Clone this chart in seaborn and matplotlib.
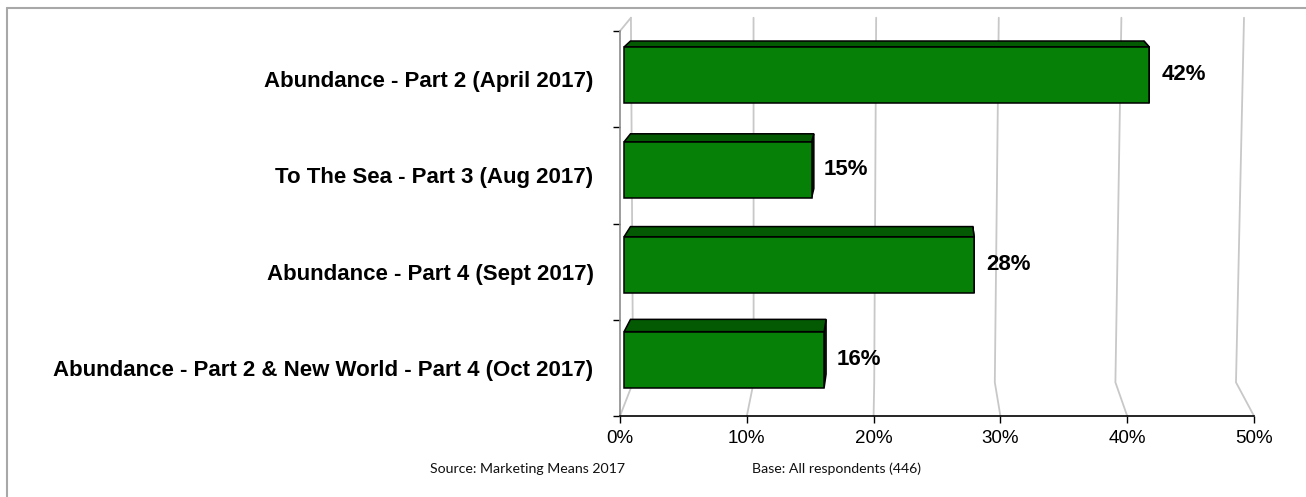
import matplotlib
matplotlib.use("Agg")
import pandas as pd
import matplotlib.pyplot as plt
from matplotlib.patches import Polygon
from matplotlib.lines import Line2D
import seaborn as sns

# chart data
categories = [
    "Abundance - Part 2 (April 2017)",
    "To The Sea - Part 3 (Aug 2017)",
    "Abundance - Part 4 (Sept 2017)",
    "Abundance - Part 2 & New World - Part 4 (Oct 2017)",
]
values = [42, 15, 28, 16]
x_ticks = [0, 10, 20, 30, 40, 50]
x_tick_labels = ["0%", "10%", "20%", "30%", "40%", "50%"]
source_text = "Source: Marketing Means 2017"
base_text = "Base: All respondents (446)"

# colours
front_green = "#068006"
top_green = "#035A03"
side_green = "#024602"
grid_grey = "#C8C8C8"

# fake 3d perspective (vanishing point in data coords, depth scales)
vp_x, vp_y = 23.0, -3.1
s_front = 0.986
s_back = 0.964
s_wall = 0.947
# back wall gridlines: (centre, scale) for x at the top and at the bottom
wall_top = (26.1, 0.967)
wall_bottom = (21.0, 0.951)


def proj(x, y, s):
    return vp_x + s * (x - vp_x), vp_y + s * (y - vp_y)


def wall_x(v, params):
    c, s = params
    return c + s * (v - c)


sns.set_theme(style="white")
plt.rcParams["font.family"] = ["Liberation Sans", "DejaVu Sans"]
plt.rcParams["text.color"] = "black"
plt.rcParams["xtick.color"] = "black"
plt.rcParams["ytick.color"] = "black"

fig = plt.figure(figsize=(13.06, 4.97), dpi=100)
ax = fig.add_axes([620 / 1306, 1 - 416 / 497, 634 / 1306, 385 / 497])

df = pd.DataFrame({"show": categories, "pct": values})
sns.barplot(data=df, x="pct", y="show", orient="h", color=front_green,
            saturation=1, width=0.59, edgecolor="black", linewidth=1.1,
            ax=ax, zorder=5)
n = len(categories)
ax.set_xlim(0, 50)
ax.set_ylim(n - 0.5, -0.5)

# back wall + floor gridlines
y_top = proj(0, -0.5, s_wall)[1]
y_bot = proj(0, n - 0.5, s_wall)[1]
for v in x_ticks:
    ax.plot([wall_x(v, wall_top), wall_x(v, wall_bottom), v],
            [y_top, y_bot, n - 0.5], color=grid_grey,
            lw=1.3, clip_on=False, zorder=1)
# left wall top edge
ax.plot([0, wall_x(0, wall_top)], [-0.5, y_top], color=grid_grey, lw=1.3,
        clip_on=False, zorder=1)

# turn flat bars into boxes
for p in ax.patches:
    x0, y0 = p.get_x(), p.get_y()
    w, h = p.get_width(), p.get_height()
    f1 = proj(x0, y0, s_front)
    f2 = proj(x0 + w, y0, s_front)
    f3 = proj(x0 + w, y0 + h, s_front)
    b1 = proj(x0, y0, s_back)
    b2 = proj(x0 + w, y0, s_back)
    b3 = proj(x0 + w, y0 + h, s_back)
    p.set_x(f1[0])
    p.set_y(f1[1])
    p.set_width(f2[0] - f1[0])
    p.set_height(f3[1] - f2[1])
    ax.add_patch(Polygon([f2, f3, b3, b2], closed=True, facecolor=side_green,
                         edgecolor="black", lw=1.1, zorder=3, clip_on=False))
    ax.add_patch(Polygon([f1, f2, b2, b1], closed=True, facecolor=top_green,
                         edgecolor="black", lw=1.1, zorder=4, clip_on=False))
    p.set_clip_on(False)

ax.bar_label(ax.containers[0], labels=[f"{v}%" for v in values], padding=9,
             fontsize=16, fontweight="bold", color="black")

# axes styling
for side in ["top", "right"]:
    ax.spines[side].set_visible(False)
ax.spines["left"].set_color("#8C8C8C")
ax.spines["left"].set_linewidth(1.2)
ax.spines["bottom"].set_color("black")
ax.spines["bottom"].set_linewidth(1.2)

ax.set_xticks(x_ticks)
ax.set_xticklabels(x_tick_labels)
ax.set_yticks(range(n))
ax.set_yticklabels(categories, fontweight="bold", fontsize=16)
ax.set_yticks([i - 0.5 for i in range(n + 1)], minor=True)
ax.tick_params(axis="x", length=5, width=1, color="black", direction="out",
               labelsize=13.5, pad=5, bottom=True)
ax.tick_params(axis="y", which="major", length=0, pad=19)
ax.tick_params(axis="y", which="minor", length=5, width=1, color="black",
               direction="out", left=True)
ax.set_xlabel("")
ax.set_ylabel("")
ax.grid(False)

# footer
fig.text(430 / 1306, 1 - 469 / 497, source_text, fontsize=10.2,
         family=["Lato", "DejaVu Sans"], va="center", ha="left", color="#111111")
fig.text(752 / 1306, 1 - 469 / 497, base_text, fontsize=10.2,
         family=["Lato", "DejaVu Sans"], va="center", ha="left", color="#111111")

# outer frame (top and left edges)
fig.add_artist(Line2D([7 / 1306, 1], [1 - 8 / 497, 1 - 8 / 497],
                      color="#A8A8A8", lw=1.5, transform=fig.transFigure))
fig.add_artist(Line2D([7 / 1306, 7 / 1306], [0, 1 - 8 / 497],
                      color="#A8A8A8", lw=1.5, transform=fig.transFigure))

fig.savefig("out.png", dpi=100)
